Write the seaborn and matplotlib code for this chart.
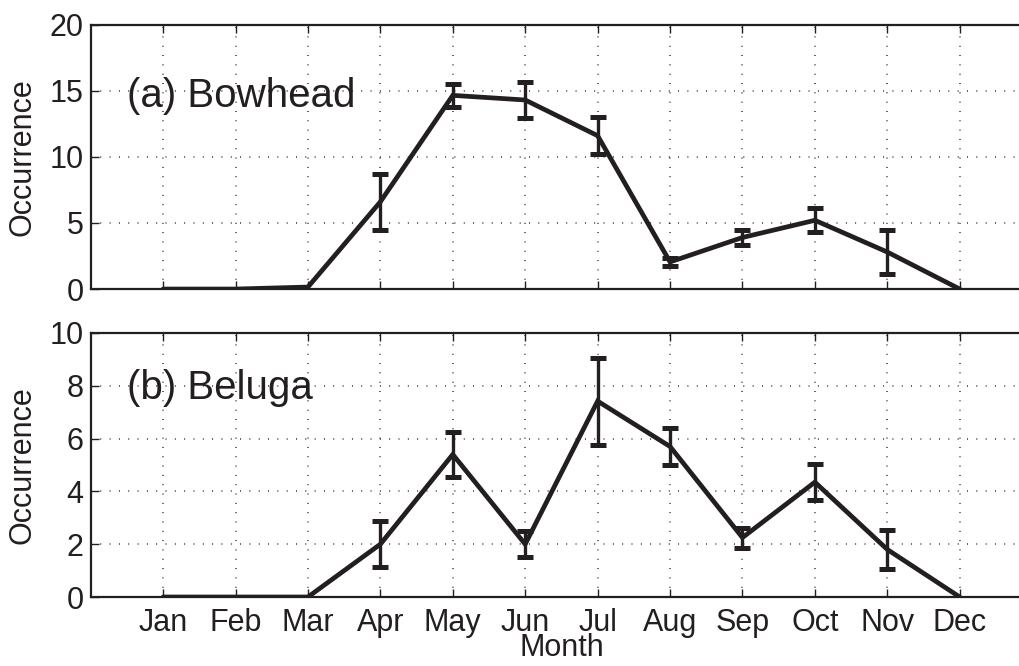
'''Monthly occurrence of bowhead and beluga whales, two stacked panels.'''

import numpy as np
import pandas as pd
import matplotlib
matplotlib.use("Agg")
import matplotlib.pyplot as plt
import seaborn as sns

#==================================== DATA ====================================
months = ['Jan', 'Feb', 'Mar', 'Apr', 'May', 'Jun',
          'Jul', 'Aug', 'Sep', 'Oct', 'Nov', 'Dec']
month_num = list(range(1, 13))

bowhead_mean = [0, 0, 0.15, 6.6, 14.65, 14.3, 11.6, 2.05, 3.9, 5.2, 2.8, 0]
bowhead_err = [0, 0, 0, 2.1, 0.85, 1.35, 1.4, 0.3, 0.6, 0.9, 1.65, 0]

beluga_mean = [0, 0, 0, 2.0, 5.4, 2.0, 7.42, 5.7, 2.25, 4.35, 1.8, 0]
beluga_err = [0, 0, 0, 0.88, 0.85, 0.5, 1.65, 0.7, 0.38, 0.67, 0.75, 0]

panels = [('(a) Bowhead', bowhead_mean, bowhead_err, 20, [0, 5, 10, 15, 20], 13.75),
          ('(b) Beluga', beluga_mean, beluga_err, 10, [0, 2, 4, 6, 8, 10], 7.49)]

#=================================== STYLE ====================================
sns.set_theme(style="white")
plt.rcParams['font.family'] = ['Liberation Sans', 'DejaVu Sans']
ink = '#231f20'

fig = plt.figure(figsize=(10.2, 6.66), dpi=100)
# axes run a little past the right edge, like the cropped original
ax_top = fig.add_axes([0.0889, 0.566, 0.923, 0.397])
ax_bot = fig.add_axes([0.0889, 0.1036, 0.923, 0.3964])

for ax, (name, mean, err, ymax, yticks, ytxt) in zip([ax_top, ax_bot], panels):
    df = pd.DataFrame({'month': month_num, 'occ': mean})
    sns.lineplot(data=df, x='month', y='occ', ax=ax, color=ink, linewidth=3.4,
                 solid_joinstyle='miter', zorder=3)
    # only draw the bars where there is a spread
    idx = [i for i, e in enumerate(err) if e > 0]
    ax.errorbar([month_num[i] for i in idx], [mean[i] for i in idx],
                yerr=[err[i] for i in idx], fmt='none', ecolor=ink,
                elinewidth=2.4, capsize=5.6, capthick=3.6, zorder=4)

    ax.set_xlim(0, 13)
    ax.set_ylim(0, ymax)
    ax.set_xticks(month_num)
    ax.set_yticks(yticks)
    ax.grid(True, color=ink, linestyle=(0, (0.6, 5.5)), linewidth=1.1)
    ax.tick_params(direction='in', length=6, width=1.0, color=ink,
                   top=True, bottom=True, left=True, right=False,
                   labelsize=22, labelcolor=ink)
    ax.tick_params(axis='x', pad=8)
    ax.tick_params(axis='y', pad=5)
    for side in ['left', 'top', 'bottom']:
        ax.spines[side].set_color(ink)
        ax.spines[side].set_linewidth(1.6)
    ax.spines['right'].set_visible(False)
    ax.set_ylabel('Occurrence', fontsize=22, color=ink, labelpad=9)
    ax.text(0.5, ytxt, name, fontsize=29, color=ink, ha='left', va='baseline')

ax_top.set_xlabel('')
ax_top.set_xticklabels([])
ax_bot.set_xticklabels(months)
ax_bot.set_xlabel('Month', fontsize=22, color=ink, labelpad=-4)

fig.savefig('out.png', dpi=100)
